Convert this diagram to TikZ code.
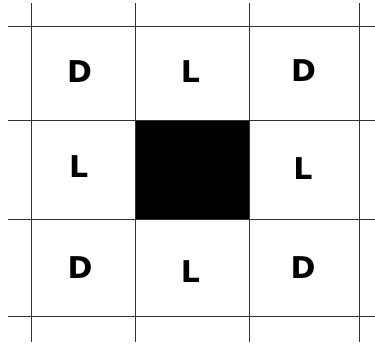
\documentclass[tikz,border=0pt]{standalone}
\usepackage{fontspec}
\setmainfont{DejaVu Sans}
\usepackage{tikz}
\usetikzlibrary{positioning}
\definecolor{gridgray}{RGB}{50, 50, 50}

\tikzset{
    cell/.style={font=\fontsize{30}{30}\selectfont\bfseries, inner sep=0pt, text=black},
    gridline/.style={line width=1pt, gridgray}
}

\begin{document}
\begin{tikzpicture}[x=1pt, y=-1pt]
\useasboundingbox (0,0) rectangle (375,343);
% blocked centre square
\fill[black] (135,120) rectangle (249,219);
% grid
\foreach \x in {31,135,249,359}
    \draw[gridline] (\x,3) -- (\x,342);
\foreach \y in {26,120,219,316}
    \draw[gridline] (8,\y) -- (375,\y);
% cell labels
\node[cell] (nw) at (79.5,71.5) {D};
\node[cell] (n)  at (190.5,72) {L};
\node[cell] (ne) at (303.5,70.5) {D};
\node[cell] (w)  at (78.7,167) {L};
\node[cell] (e)  at (303,169) {L};
\node[cell] (sw) at (80,268) {D};
\node[cell] (s)  at (190.5,272) {L};
\node[cell] (se) at (303,268) {D};
\end{tikzpicture}
\end{document}
